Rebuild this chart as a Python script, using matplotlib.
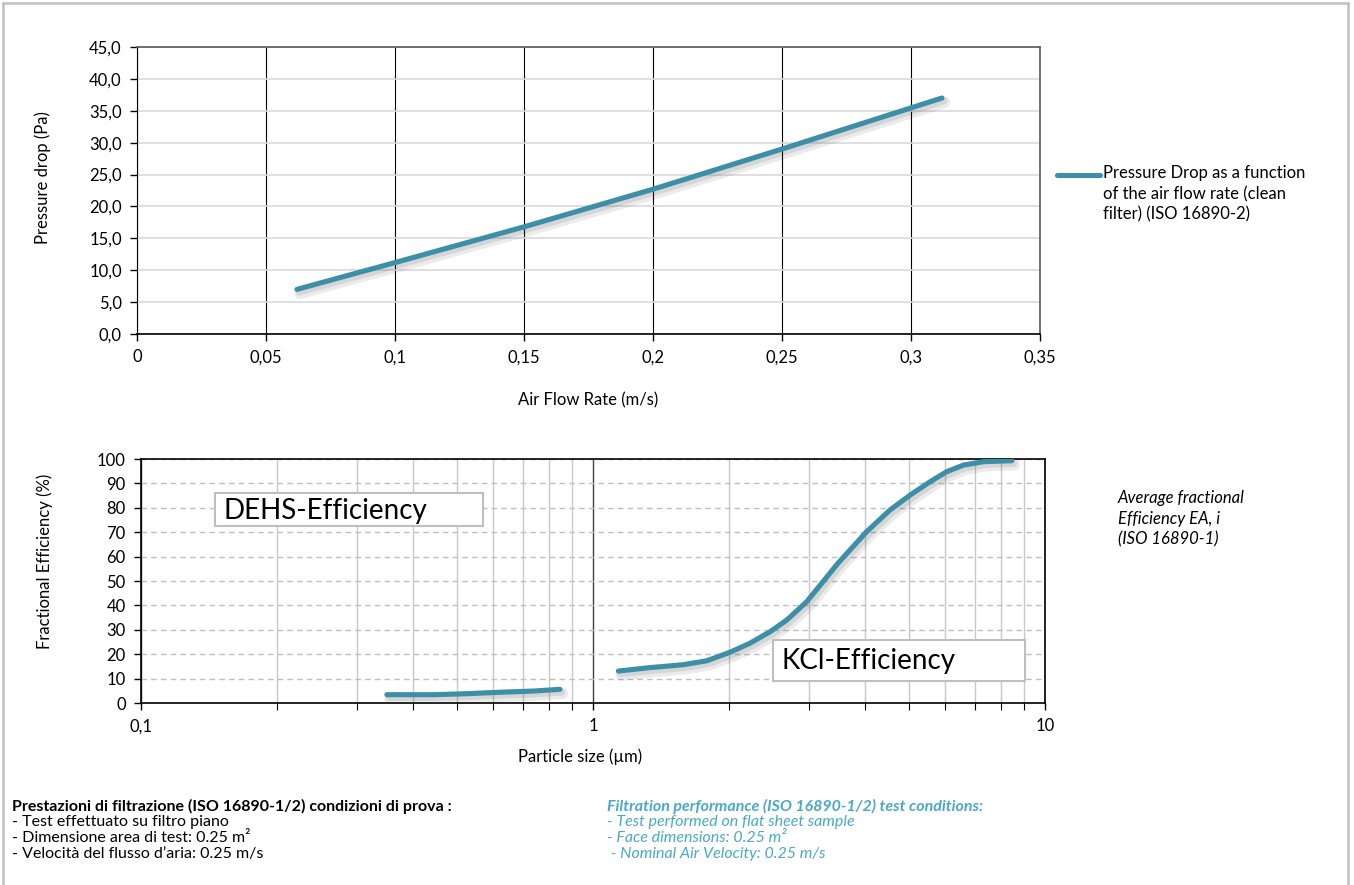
import matplotlib
matplotlib.use("Agg")
import matplotlib.pyplot as plt
import matplotlib.patheffects as pe
from matplotlib.patches import Rectangle
from matplotlib.lines import Line2D
from matplotlib.ticker import FixedLocator, NullFormatter

plt.rcParams['font.family'] = ['Lato', 'DejaVu Sans']

# ---------------- data ----------------
air_flow = [0.062, 0.1, 0.15, 0.2, 0.25, 0.312]
pressure_drop = [7.0, 11.2, 16.8, 22.7, 29.0, 37.0]

dehs_size = [0.350, 0.443, 0.525, 0.622, 0.738, 0.845]
dehs_eff = [3.4, 3.4, 3.8, 4.4, 4.9, 5.6]

kcl_size = [1.138, 1.337, 1.585, 1.785, 2.01, 2.225, 2.464, 2.683, 2.97, 3.22,
            3.48, 4.03, 4.54, 5.03, 5.57, 6.06, 6.6, 7.31, 8.44]
kcl_eff = [13.1, 14.5, 15.7, 17.3, 20.8, 24.5, 29.2, 34.0, 41.5, 49.5,
           57.2, 70.2, 79.1, 85.2, 90.7, 94.8, 97.5, 98.9, 99.3]

top_xticks = [0, 0.05, 0.1, 0.15, 0.2, 0.25, 0.3, 0.35]
top_xlabels = ['0', '0,05', '0,1', '0,15', '0,2', '0,25', '0,3', '0,35']
top_yticks = [0, 5, 10, 15, 20, 25, 30, 35, 40, 45]
top_ylabels = ['0,0', '5,0', '10,0', '15,0', '20,0', '25,0', '30,0', '35,0', '40,0', '45,0']

bot_xticks = [0.1, 1, 10]
bot_xlabels = ['0,1', '1', '10']
bot_yticks = [0, 10, 20, 30, 40, 50, 60, 70, 80, 90, 100]

legend_label = "Pressure Drop as a function\nof the air flow rate (clean\nfilter) (ISO 16890-2)"
side_note = "Average fractional\nEfficiency EA, i\n(ISO 16890-1)"

it_lines = ["Prestazioni di filtrazione (ISO 16890-1/2) condizioni di prova :",
            "- Test effettuato su filtro piano",
            "- Dimensione area di test: 0.25 m²",
            "- Velocità del flusso d’aria: 0.25 m/s"]
en_lines = ["Filtration performance (ISO 16890-1/2) test conditions:",
            "- Test performed on flat sheet sample",
            "- Face dimensions: 0.25 m²",
            " - Nominal Air Velocity: 0.25 m/s"]

LINE_C = '#3d8fa8'
TXT_C = '#4aa8c8'
W, H = 1354, 885

fig = plt.figure(figsize=(W / 100, H / 100), dpi=100)

def fx(px):
    return px / W

def fy(py):
    return 1 - py / H

shadow = [pe.SimpleLineShadow(offset=(2, -3), alpha=0.10, shadow_color='#444444', linewidth=8),
          pe.SimpleLineShadow(offset=(1.5, -2), alpha=0.12, shadow_color='#444444', linewidth=5),
          pe.Normal()]

# ---------------- top chart ----------------
ax1 = fig.add_axes([fx(137), fy(334), fx(1040 - 137), (334 - 47) / H])
ax1.plot(air_flow, pressure_drop, color=LINE_C, lw=3.7, solid_capstyle='round',
         path_effects=shadow, zorder=3)
ax1.set_xlim(0, 0.35)
ax1.set_ylim(0, 45)
ax1.set_xticks(top_xticks)
ax1.set_xticklabels(top_xlabels)
ax1.set_yticks(top_yticks)
ax1.set_yticklabels(top_ylabels)
ax1.tick_params(axis='both', labelsize=12, length=5, width=1, color='black', pad=6)
ax1.yaxis.grid(True, color='#d9d9d9', lw=1.2)
ax1.xaxis.grid(True, color='black', lw=0.8)
ax1.set_axisbelow(True)
for s in ['top', 'right']:
    ax1.spines[s].set_color('#595959')
    ax1.spines[s].set_linewidth(1.2)
ax1.spines['bottom'].set_color('black')
ax1.spines['left'].set_color('black')
ax1.spines['bottom'].set_linewidth(1.2)

fig.text(fx(588), fy(400), "Air Flow Rate (m/s)", fontsize=12, ha='center', va='center')
fig.text(fx(43), fy(178), "Pressure drop (Pa)", fontsize=12, ha='center', va='center', rotation=90)

# legend
fig.add_artist(Line2D([fx(1057), fx(1100)], [fy(175), fy(175)], color=LINE_C, lw=3.7,
                      solid_capstyle='round'))
fig.text(fx(1103), fy(175) + 0.011, legend_label, fontsize=12, ha='left', va='top',
         linespacing=1.35)

# ---------------- bottom chart ----------------
ax2 = fig.add_axes([fx(141), fy(703), fx(1045 - 141), (703 - 459) / H])
ax2.plot(dehs_size, dehs_eff, color=LINE_C, lw=3.7, solid_capstyle='round',
         solid_joinstyle='round', path_effects=shadow, zorder=3)
ax2.plot(kcl_size, kcl_eff, color=LINE_C, lw=3.7, solid_capstyle='round',
         solid_joinstyle='round', path_effects=shadow, zorder=3)
ax2.set_xscale('log')
ax2.set_xlim(0.1, 10)
ax2.set_ylim(0, 100)
ax2.xaxis.set_major_locator(FixedLocator(bot_xticks))
ax2.set_xticklabels(bot_xlabels)
ax2.xaxis.set_minor_locator(FixedLocator([m * d for d in (0.1, 1) for m in range(2, 10)]))
ax2.xaxis.set_minor_formatter(NullFormatter())
ax2.set_yticks(bot_yticks)
ax2.tick_params(axis='both', which='major', labelsize=12, length=5, width=1, pad=6)
ax2.tick_params(axis='x', which='minor', length=5, width=0.8)
ax2.yaxis.grid(True, color='#bfbfbf', lw=1, ls=(0, (4, 3)))
ax2.xaxis.grid(True, which='minor', color='#c8c8c8', lw=1)
ax2.xaxis.grid(True, which='major', color='#404040', lw=1)
ax2.set_axisbelow(True)
for s in ax2.spines.values():
    s.set_color('black')
    s.set_linewidth(1.2)

fig.text(fx(580), fy(757), "Particle size (µm)", fontsize=12, ha='center', va='center')
fig.text(fx(45), fy(561), "Fractional Efficiency (%)", fontsize=12, ha='center', va='center',
         rotation=90)

# annotation boxes
for (x0, y0, x1, y1, tx, label) in [(215, 493, 483, 526, 223, "DEHS-Efficiency"),
                                    (773, 640, 1025, 681, 782, "KCl-Efficiency")]:
    fig.add_artist(Rectangle((fx(x0), fy(y1)), fx(x1 - x0), (y1 - y0) / H,
                             transform=fig.transFigure, facecolor='white',
                             edgecolor='#bfbfbf', lw=1.5, zorder=5))
    fig.text(fx(tx), fy((y0 + y1) / 2 + 1), label, fontsize=20, ha='left', va='center',
             zorder=6)

fig.text(fx(1118), fy(490), side_note, fontsize=12, style='italic', ha='left', va='top',
         linespacing=1.35)

# ---------------- bottom notes ----------------
ys = [806, 822, 838, 854]
for i, (t_it, t_en, y) in enumerate(zip(it_lines, en_lines, ys)):
    fig.text(fx(12), fy(y), t_it, fontsize=11.5, ha='left', va='center',
             weight='bold' if i == 0 else 'normal', color='black')
    fig.text(fx(607), fy(y), t_en, fontsize=11.5, ha='left', va='center', style='italic',
             weight='bold' if i == 0 else 'normal', color=TXT_C)

# frame
frame_c = '#c0c0c0'
fig.add_artist(Line2D([fx(3), fx(3)], [0, fy(3)], color=frame_c, lw=1.8))
fig.add_artist(Line2D([fx(3), fx(1348)], [fy(3), fy(3)], color=frame_c, lw=1.8))
fig.add_artist(Line2D([fx(1348), fx(1348)], [0, fy(3)], color=frame_c, lw=1.8))

fig.savefig("out.png", dpi=100)
